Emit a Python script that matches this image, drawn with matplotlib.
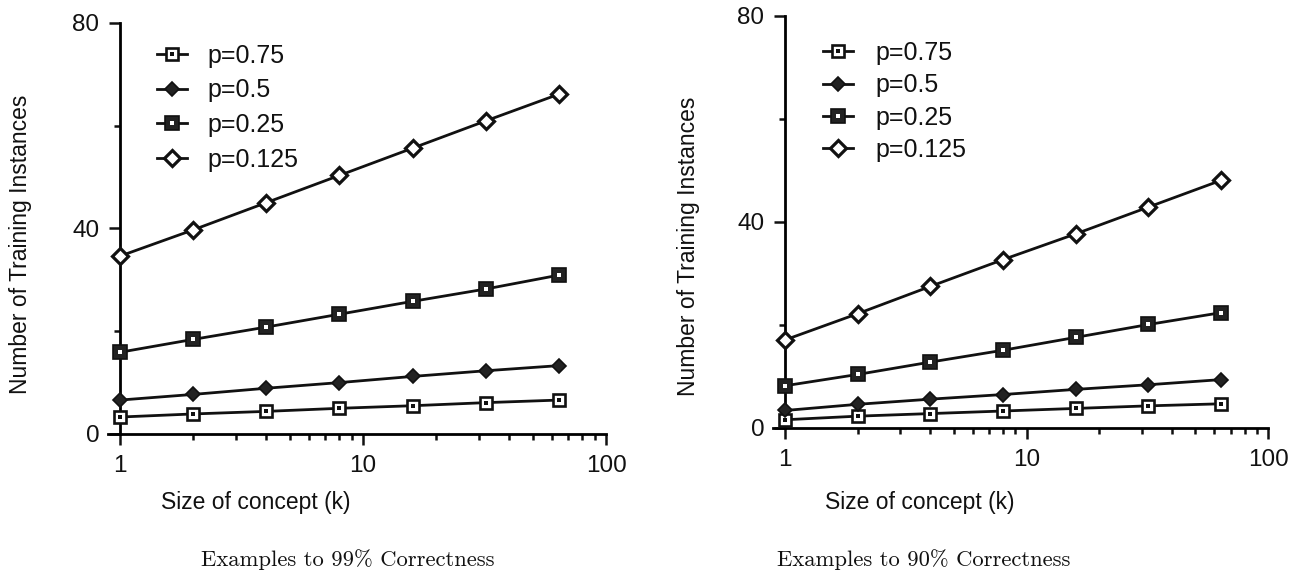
import matplotlib
matplotlib.use("Agg")
import matplotlib.pyplot as plt
from matplotlib.legend_handler import HandlerTuple
from matplotlib.ticker import FixedLocator, NullFormatter

plt.rcParams['font.family'] = ['Liberation Sans', 'DejaVu Sans']

# ---- data ----
k_values = [1, 2, 4, 8, 16, 32, 64]
series_labels = ["p=0.75", "p=0.5", "p=0.25", "p=0.125"]

# Examples to 99% correctness
left_p075 = [3.3, 3.9, 4.4, 5.0, 5.5, 6.1, 6.6]
left_p05 = [6.6, 7.7, 8.9, 10.0, 11.2, 12.3, 13.3]
left_p025 = [15.9, 18.4, 20.8, 23.3, 25.8, 28.2, 30.9]
left_p0125 = [34.6, 39.7, 45.0, 50.3, 55.6, 60.9, 66.1]

# Examples to 90% correctness
right_p075 = [1.6, 2.3, 2.8, 3.3, 3.8, 4.3, 4.7]
right_p05 = [3.4, 4.6, 5.6, 6.5, 7.5, 8.4, 9.4]
right_p025 = [8.2, 10.4, 12.8, 15.1, 17.6, 20.1, 22.4]
right_p0125 = [17.1, 22.2, 27.5, 32.7, 37.7, 42.9, 48.1]

y_ticks = [0, 40, 80]
y_minor = [20, 60]
x_ticks = [1, 10, 100]
x_ticklabels = ["1", "10", "100"]

titles = ["Examples to 99% Correctness", "Examples to 90% Correctness"]
xlabel = "Size of concept (k)"
ylabel = "Number of Training Instances"

W, H = 1299, 573
fig = plt.figure(figsize=(W / 100, H / 100), dpi=100)


def fx(px):
    return px / W


def fy(py):
    return 1 - py / H


def make_axes(x1_px, x100_px, ext_px, y0_px, y80_px):
    decade = (x100_px - x1_px) / 2.0
    left = x1_px - ext_px
    ax = fig.add_axes([fx(left), fy(y0_px), fx(x100_px - left), (y0_px - y80_px) / H])
    ax.set_xscale('log')
    ax.set_xlim(10 ** (-ext_px / decade), 100)
    ax.set_ylim(0, 80)
    ax.spines['top'].set_visible(False)
    ax.spines['right'].set_visible(False)
    ax.spines['left'].set_position(('data', 1))
    for s in ('left', 'bottom'):
        ax.spines[s].set_linewidth(2.0)
    ax.set_facecolor('none')
    ax.yaxis.set_major_locator(FixedLocator(y_ticks))
    ax.yaxis.set_minor_locator(FixedLocator(y_minor))
    ax.xaxis.set_major_locator(FixedLocator(x_ticks))
    ax.set_xticklabels(x_ticklabels)
    minors = [m * d for d in (1, 10) for m in range(2, 10)]
    ax.xaxis.set_minor_locator(FixedLocator(minors))
    ax.xaxis.set_minor_formatter(NullFormatter())
    ax.tick_params(axis='both', which='major', direction='out', length=8, width=1.8,
                   labelsize=17.5, color='#111111', labelcolor='#111111')
    ax.tick_params(axis='both', which='minor', direction='out', length=4.5, width=1.8,
                   color='#111111')
    ax.tick_params(axis='y', which='major', pad=7)
    ax.tick_params(axis='x', which='major', pad=7)
    return ax


def draw_series(ax, y075, y05, y025, y0125):
    lw = 2.0
    h = []
    l1, = ax.plot(k_values, y075, color='#111111', lw=lw, marker='s', ms=8.5,
                  mfc='white', mec='#111111', mew=1.9, zorder=3)
    d1, = ax.plot(k_values, y075, ls='none', marker='s', ms=2.5, mfc='#111111',
                  mec='#111111', mew=0, zorder=4)
    h.append((l1, d1))
    l2, = ax.plot(k_values, y05, color='#111111', lw=lw, marker='D', ms=7.5,
                  mfc='#222222', mec='#111111', mew=1.2, zorder=3)
    h.append((l2,))
    l3, = ax.plot(k_values, y025, color='#111111', lw=lw, marker='s', ms=9.5,
                  mfc='#222222', mec='#111111', mew=1.2, zorder=3)
    d3, = ax.plot(k_values, y025, ls='none', marker='s', ms=2.8, mfc='white',
                  mec='white', mew=0, zorder=4)
    h.append((l3, d3))
    l4, = ax.plot(k_values, y0125, color='#111111', lw=lw, marker='D', ms=8,
                  mfc='white', mec='#111111', mew=2.3, zorder=3)
    h.append((l4,))
    for a in (l1, l2, l3, l4, d1, d3):
        a.set_clip_on(False)
    return h


ax1 = make_axes(120, 606, 12, 434, 22.7)
h1 = draw_series(ax1, left_p075, left_p05, left_p025, left_p0125)
ax2 = make_axes(785, 1268, 12, 428, 16)
h2 = draw_series(ax2, right_p075, right_p05, right_p025, right_p0125)

for ax, h, (lx, ly), tp, ls in ((ax1, h1, (157, 44), 0.8, 0.42),
                                (ax2, h2, (823, 41), 0.88, 0.33)):
    leg = ax.legend(h, series_labels, handler_map={tuple: HandlerTuple(ndivide=1)},
                    loc='upper left', bbox_to_anchor=(fx(lx), fy(ly)),
                    bbox_transform=fig.transFigure, frameon=False, fontsize=18,
                    handlelength=1.2, handletextpad=tp, labelspacing=ls,
                    borderpad=0, borderaxespad=0)
    for t in leg.get_texts():
        t.set_color('#111111')

# axis labels
for xc, yc in ((256, 502), (920, 502)):
    fig.text(fx(xc), fy(yc), xlabel, ha='center', va='center', fontsize=16.5,
             color='#111111')
for xc, yc in ((21, 244), (688, 246)):
    fig.text(fx(xc), fy(yc), ylabel, ha='center', va='center', rotation=90,
             fontsize=16.5, color='#111111')

# titles (Computer Modern)
for xc, t in ((348, titles[0]), (924, titles[1])):
    fig.text(fx(xc), fy(560), t, ha='center', va='center', fontsize=16.3,
             family='cmr10', color='#111111')

fig.savefig('out.png', dpi=100)
